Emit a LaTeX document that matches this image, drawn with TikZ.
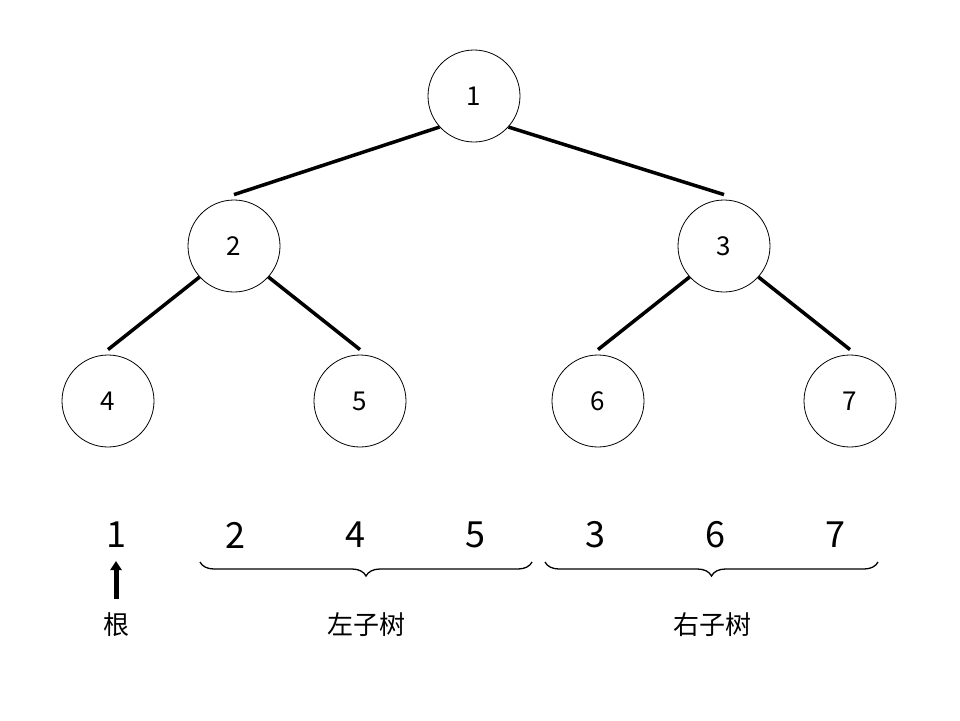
\documentclass[tikz,border=0pt]{standalone}
\usepackage{fontspec}
\setmainfont{Noto Sans CJK SC}
\usetikzlibrary{decorations.pathreplacing,arrows.meta}
\begin{document}
\begin{tikzpicture}[x=1pt,y=-1pt,
  tn/.style={circle,draw,line width=0.8pt,minimum size=92pt,inner sep=0pt,font=\fontsize{26}{30}\selectfont},
  ed/.style={line width=3.5pt},
  num/.style={font=\fontsize{36}{40}\selectfont},
  lab/.style={font=\fontsize{26}{30}\selectfont},
  br/.style={decorate,decoration={brace,mirror,amplitude=14pt},line width=1.3pt}]
\useasboundingbox (0,0) rectangle (960,720);
\node[tn] (n1) at (474,96) {1};
\node[tn] (n2) at (234,246) {2};
\node[tn] (n3) at (724,246) {3};
\node[tn] (n4) at (108,401) {4};
\node[tn] (n5) at (360,401) {5};
\node[tn] (n6) at (598,401) {6};
\node[tn] (n7) at (850,401) {7};
\draw[ed] (n1.222) -- ([yshift=5pt]n2.north);
\draw[ed] (n1.318) -- ([yshift=5pt]n3.north);
\draw[ed] (n2.222) -- ([yshift=5pt]n4.north);
\draw[ed] (n2.318) -- ([yshift=5pt]n5.north);
\draw[ed] (n3.222) -- ([yshift=5pt]n6.north);
\draw[ed] (n3.318) -- ([yshift=5pt]n7.north);
\node[num] (b1) at (116,535) {1};
\node[num] (b2) at (235,535) {2};
\node[num] (b4) at (355,535) {4};
\node[num] (b5) at (475,535) {5};
\node[num] (b3) at (595,535) {3};
\node[num] (b6) at (715,535) {6};
\node[num] (b7) at (835,535) {7};
\node[lab] (root) at (116,625) {根};
\node[lab] (left) at (366,625) {左子树};
\node[lab] (right) at (712,625) {右子树};
\coordinate (a1) at (116,599);
\coordinate (a2) at (116,561);
\draw[line width=5pt,-{Triangle[length=9pt,width=11pt]}] (a1) -- (a2);
\coordinate (l1) at (200,562);
\coordinate (l2) at (532,562);
\coordinate (r1) at (545,562);
\coordinate (r2) at (878,562);
\draw[br] (l1) -- (l2);
\draw[br] (r1) -- (r2);
\end{tikzpicture}
\end{document}
